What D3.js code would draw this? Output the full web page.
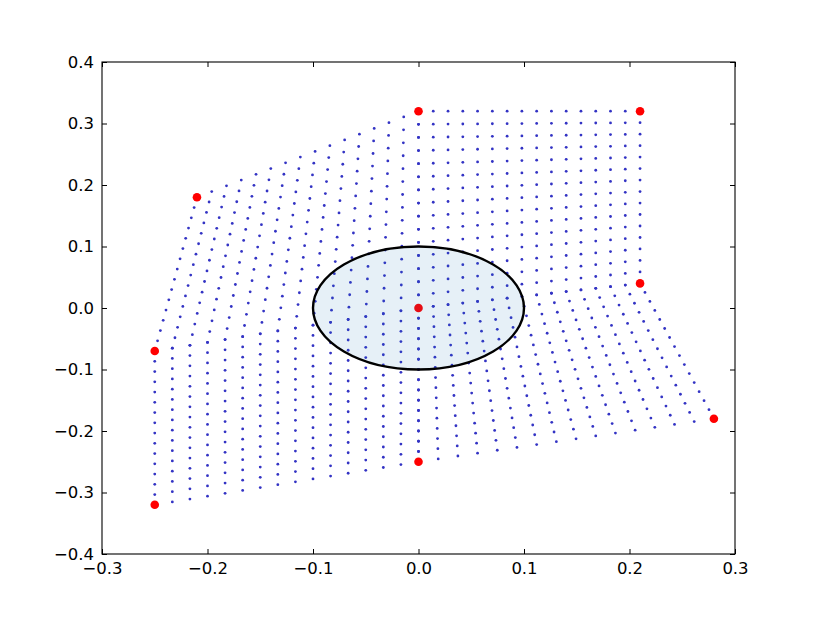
<!DOCTYPE html>
<html>
<head>
<meta charset="utf-8">
<script src="https://cdn.jsdelivr.net/npm/d3@7"></script>
<style>
  html, body { margin: 0; padding: 0; background: #fff; }
  svg { display: block; }
  text { font-family: "DejaVu Sans", sans-serif; }
</style>
</head>
<body>
<svg id="chart" width="817" height="617"></svg>
<script>
// ---- data ----
// 3x3 control nodes (red points), listed bottom row, middle row, top row; left -> right
const nodeX = [-0.25, 0.00, 0.28,
               -0.25, 0.00, 0.21,
               -0.21, 0.00, 0.21];
const nodeY = [-0.32, -0.25, -0.18,
               -0.07,  0.00,  0.04,
                0.18,  0.32,  0.32];
// number of subdivisions of each of the 2x2 sub-cells of the mesh
const subdivisions = 15;
// ellipse (centre and semi-axes, data units)
const ellipseCenter = [0, 0];
const ellipseRadii = [0.1, 0.1];
// axes
const xDomain = [-0.3, 0.3];
const yDomain = [-0.4, 0.4];
const xTicks = [-0.3, -0.2, -0.1, 0.0, 0.1, 0.2, 0.3];
const xTickLabels = ["\u22120.3", "\u22120.2", "\u22120.1", "0.0", "0.1", "0.2", "0.3"];
const yTicks = [-0.4, -0.3, -0.2, -0.1, 0.0, 0.1, 0.2, 0.3, 0.4];
const yTickLabels = ["\u22120.4", "\u22120.3", "\u22120.2", "\u22120.1", "0.0", "0.1", "0.2", "0.3", "0.4"];

// ---- layout ----
const L = 102, R = 735, T = 62, B = 554;
const svg = d3.select("#chart");
const x = d3.scaleLinear().domain(xDomain).range([L, R]);
const y = d3.scaleLinear().domain(yDomain).range([B, T]);

// mesh points: bilinear map of each 2x2 sub-cell
const node = (i, j) => [nodeX[j * 3 + i], nodeY[j * 3 + i]];
const mesh = [];
for (let a = 0; a < 2; a++) {
  for (let b = 0; b < 2; b++) {
    const p00 = node(a, b), p10 = node(a + 1, b), p11 = node(a + 1, b + 1), p01 = node(a, b + 1);
    for (let i = 0; i <= subdivisions; i++) {
      for (let j = 0; j <= subdivisions; j++) {
        const u = i / subdivisions, v = j / subdivisions;
        const w00 = (1 - u) * (1 - v), w10 = u * (1 - v), w11 = u * v, w01 = (1 - u) * v;
        mesh.push([
          w00 * p00[0] + w10 * p10[0] + w11 * p11[0] + w01 * p01[0],
          w00 * p00[1] + w10 * p10[1] + w11 * p11[1] + w01 * p01[1]
        ]);
      }
    }
  }
}

const plot = svg.append("g");
plot.selectAll("circle.mesh").data(mesh).join("circle")
  .attr("class", "mesh")
  .attr("cx", d => x(d[0])).attr("cy", d => y(d[1]))
  .attr("r", 1.4).attr("fill", "#3333c4");

plot.selectAll("circle.node").data(nodeX.map((v, k) => [v, nodeY[k]])).join("circle")
  .attr("class", "node")
  .attr("cx", d => x(d[0])).attr("cy", d => y(d[1]))
  .attr("r", 4.3).attr("fill", "#ff0000");

plot.append("ellipse")
  .attr("cx", x(ellipseCenter[0])).attr("cy", y(ellipseCenter[1]))
  .attr("rx", x(ellipseRadii[0]) - x(0)).attr("ry", y(0) - y(ellipseRadii[1]))
  .attr("fill", "rgba(31,119,180,0.11)")
  .attr("stroke", "#000").attr("stroke-width", 2.4);

// ---- axes ----
const fs = 16.5;
const xb = svg.append("g").attr("transform", `translate(0,${B})`)
  .call(d3.axisBottom(x).tickValues(xTicks).tickFormat((d, i) => xTickLabels[i])
    .tickSizeInner(-5).tickSizeOuter(0).tickPadding(8));
const xt = svg.append("g").attr("transform", `translate(0,${T})`)
  .call(d3.axisTop(x).tickValues(xTicks).tickFormat("").tickSizeInner(-5).tickSizeOuter(0));
const yl = svg.append("g").attr("transform", `translate(${L},0)`)
  .call(d3.axisLeft(y).tickValues(yTicks).tickFormat((d, i) => yTickLabels[i])
    .tickSizeInner(-5).tickSizeOuter(0).tickPadding(8));
const yr = svg.append("g").attr("transform", `translate(${R},0)`)
  .call(d3.axisRight(y).tickValues(yTicks).tickFormat("").tickSizeInner(-5).tickSizeOuter(0));
[xb, xt, yl, yr].forEach(g => {
  g.select(".domain").remove();
  g.selectAll(".tick line").attr("stroke", "#000").attr("stroke-width", 1);
  g.selectAll("text").attr("font-size", fs).attr("font-family", "DejaVu Sans").attr("fill", "#000");
});

svg.append("rect").attr("x", L).attr("y", T).attr("width", R - L).attr("height", B - T)
  .attr("fill", "none").attr("stroke", "#000").attr("stroke-width", 1.1);
</script>
</body>
</html>
